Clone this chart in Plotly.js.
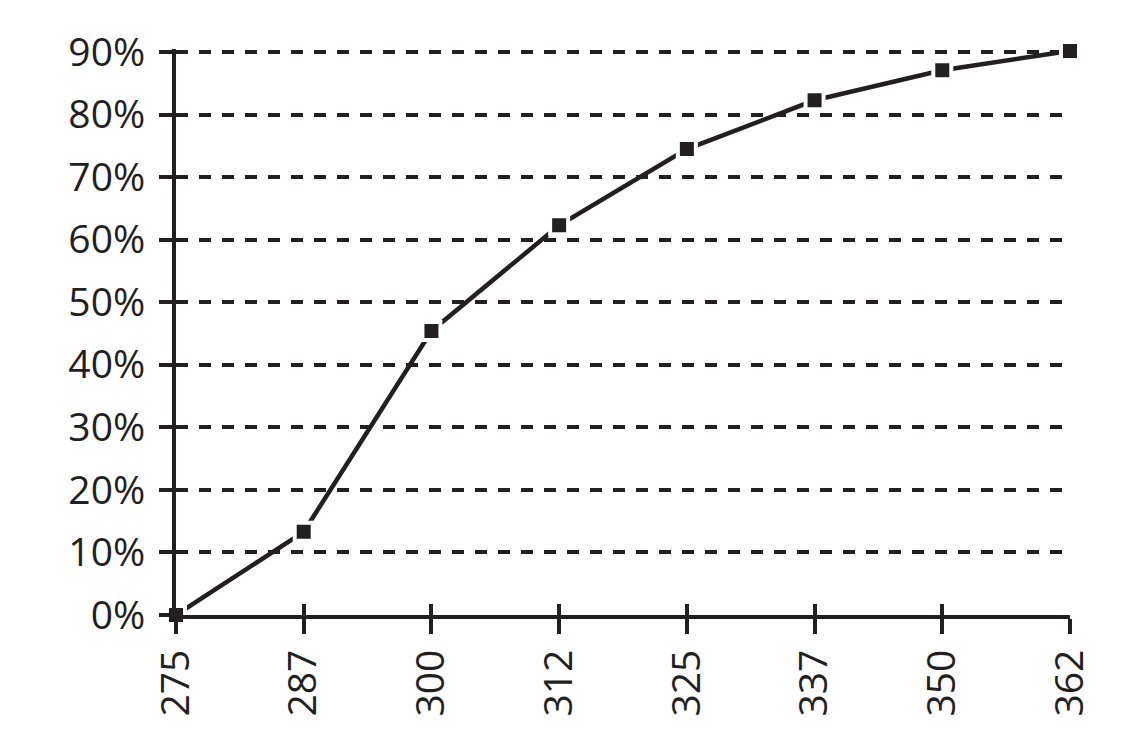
<!DOCTYPE html>
<html>
<head>
<meta charset="utf-8">
<script src="https://cdn.plot.ly/plotly-3.0.1.min.js"></script>
<style>
  html, body { margin: 0; padding: 0; background: #ffffff; }
  #plot { width: 1132px; height: 732px; }
</style>
</head>
<body>
<div id="plot"></div>
<script>
// ----- data -----
const xLabels = ["275", "287", "300", "312", "325", "337", "350", "362"];
const cumShare = [0.0, 0.133, 0.454, 0.623, 0.745, 0.823, 0.871, 0.902];
const yTicks = [0, 0.1, 0.2, 0.3, 0.4, 0.5, 0.6, 0.7, 0.8, 0.9];

const INK = "#231f20";
const FONT = { family: "Open Sans, Noto Sans, sans-serif", size: 39, color: INK };

const xIdx = xLabels.map((_, i) => i);

const trace = {
  type: "scatter",
  mode: "lines+markers",
  x: xIdx,
  y: cumShare,
  cliponaxis: false,
  line: { color: INK, width: 4.5 },
  marker: { symbol: "square", size: 18, color: INK, line: { color: "#ffffff", width: 4 } },
  hoverinfo: "skip"
};

const layout = {
  width: 1132,
  height: 732,
  margin: { l: 176, r: 62, t: 49, b: 117 },
  paper_bgcolor: "#ffffff",
  plot_bgcolor: "#ffffff",
  showlegend: false,
  font: FONT,
  xaxis: {
    range: [0, xLabels.length - 1],
    tickmode: "array",
    tickvals: xIdx,
    ticktext: xLabels,
    tickangle: -90,
    ticks: "outside",
    ticklen: 15,
    tickwidth: 4,
    tickcolor: INK,
    showgrid: false,
    zeroline: false,
    showline: true,
    linecolor: INK,
    linewidth: 4,
    tickfont: FONT
  },
  // second x axis only for the part of the ticks that pokes above the line
  xaxis2: {
    overlaying: "x",
    anchor: "y",
    side: "bottom",
    range: [0, xLabels.length - 1],
    tickmode: "array",
    tickvals: xIdx,
    ticks: "inside",
    ticklen: 11,
    tickwidth: 4,
    tickcolor: INK,
    showticklabels: false,
    showgrid: false,
    zeroline: false,
    showline: false
  },
  yaxis: {
    range: [0, 0.905],
    tickmode: "array",
    tickvals: yTicks,
    tickformat: ".0%",
    ticks: "outside",
    ticklen: 13,
    tickwidth: 4,
    tickcolor: INK,
    ticklabelstandoff: 6,
    showgrid: true,
    gridcolor: INK,
    gridwidth: 4,
    griddash: "12px,11px",
    zeroline: false,
    showline: true,
    linecolor: INK,
    linewidth: 4,
    tickfont: FONT
  }
};

const axisHolder = {
  type: "scatter", mode: "markers", x: [0], y: [0],
  xaxis: "x2", yaxis: "y",
  marker: { opacity: 0 }, hoverinfo: "skip"
};

Plotly.newPlot("plot", [axisHolder, trace], layout, { staticPlot: true });
</script>
</body>
</html>
